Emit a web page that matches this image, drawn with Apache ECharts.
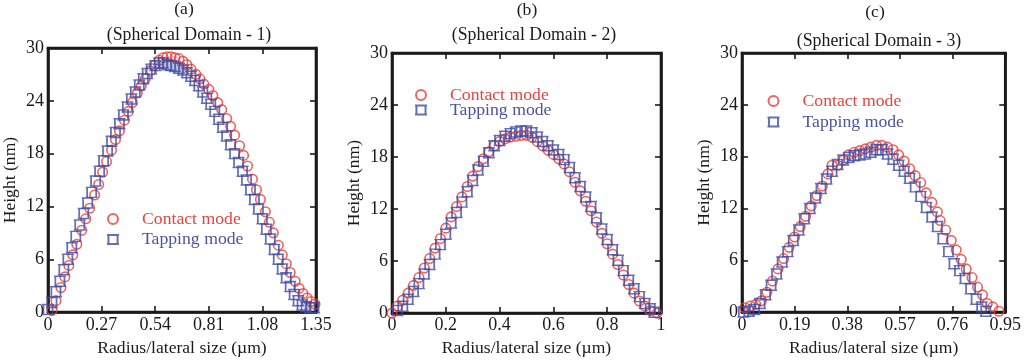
<!DOCTYPE html>
<html>
<head>
<meta charset="utf-8">
<script src="https://cdn.jsdelivr.net/npm/echarts@6/dist/echarts.min.js"></script>
<style>
html,body{margin:0;padding:0;background:#fff;}
#chart{width:1024px;height:362px;}
</style>
</head>
<body>
<div id="chart"></div>
<script>
// ---------- data ----------
const panelLabels = ['(a)', '(b)', '(c)'];
const panelTitles = ['(Spherical Domain - 1)', '(Spherical Domain - 2)', '(Spherical Domain - 3)'];
const seriesNames = ['Contact mode', 'Tapping mode'];
const yTicks = { min: 0, max: 30, interval: 6 };
const xTicksA = { min: 0, max: 1.35, interval: 0.27 };
const xTicksB = { min: 0, max: 1, interval: 0.2 };
const xTicksC = { min: 0, max: 0.95, interval: 0.19 };

const contactA = [[0.02,0.2],[0.04,1.3],[0.065,2.8],[0.085,4.0],[0.105,5.3],[0.125,6.5],[0.145,7.7],[0.17,9.3],[0.19,10.6],[0.21,11.8],[0.235,13.3],[0.255,14.5],[0.275,15.9],[0.295,17.1],[0.32,18.4],[0.34,19.6],[0.36,20.6],[0.385,21.8],[0.405,22.8],[0.425,23.8],[0.45,24.9],[0.47,25.7],[0.49,26.5],[0.515,27.4],[0.535,28.0],[0.56,28.6],[0.58,28.9],[0.60,29.0],[0.62,29.0],[0.64,28.9],[0.66,28.8],[0.68,28.5],[0.70,28.1],[0.72,27.6],[0.745,27.0],[0.765,26.5],[0.785,25.9],[0.81,25.3],[0.83,24.6],[0.855,23.8],[0.875,23.0],[0.90,22.0],[0.92,21.1],[0.94,20.1],[0.965,18.9],[0.985,17.8],[1.005,16.6],[1.03,15.1],[1.05,13.9],[1.07,12.8],[1.095,11.4],[1.115,10.2],[1.135,9.0],[1.16,7.6],[1.18,6.5],[1.20,5.5],[1.22,4.5],[1.245,3.5],[1.265,2.7],[1.285,2.1],[1.305,1.6],[1.325,1.2],[1.345,0.9]];
const tappingA = [[0.00,0.3],[0.02,1.1],[0.04,2.3],[0.06,3.5],[0.08,4.8],[0.10,6.0],[0.12,7.3],[0.14,8.6],[0.16,9.9],[0.18,11.2],[0.20,12.4],[0.22,13.6],[0.24,14.9],[0.26,16.0],[0.28,17.2],[0.30,18.3],[0.32,19.4],[0.34,20.4],[0.36,21.4],[0.38,22.4],[0.40,23.3],[0.42,24.2],[0.44,25.0],[0.46,25.8],[0.48,26.5],[0.50,27.1],[0.52,27.6],[0.54,28.0],[0.56,28.3],[0.58,28.3],[0.60,28.1],[0.62,28.0],[0.64,27.9],[0.66,27.7],[0.68,27.5],[0.70,27.2],[0.72,26.8],[0.74,26.3],[0.76,25.7],[0.78,25.0],[0.80,24.3],[0.82,23.6],[0.84,22.8],[0.86,21.9],[0.88,21.0],[0.90,20.0],[0.92,19.0],[0.94,18.0],[0.96,17.0],[0.98,16.0],[1.00,15.0],[1.02,13.9],[1.04,12.8],[1.06,11.7],[1.08,10.6],[1.10,9.4],[1.12,8.3],[1.14,7.1],[1.16,6.0],[1.18,4.9],[1.20,3.9],[1.22,2.9],[1.24,2.0],[1.26,1.3],[1.28,0.8],[1.30,0.6],[1.32,0.5],[1.34,0.5]];

const contactB = [[0.00,0.0],[0.02,0.8],[0.04,1.5],[0.06,2.3],[0.08,3.2],[0.10,4.1],[0.12,5.2],[0.14,6.3],[0.16,7.5],[0.18,8.6],[0.20,9.8],[0.22,11.1],[0.24,12.3],[0.26,13.4],[0.28,14.6],[0.30,15.8],[0.32,16.9],[0.34,17.8],[0.36,18.6],[0.38,19.3],[0.40,19.8],[0.42,20.1],[0.44,20.3],[0.46,20.4],[0.48,20.5],[0.50,20.5],[0.52,20.3],[0.54,19.8],[0.56,19.3],[0.58,18.8],[0.60,18.3],[0.62,17.8],[0.64,17.2],[0.66,16.3],[0.68,15.1],[0.70,14.1],[0.72,12.9],[0.74,11.8],[0.76,10.5],[0.78,9.2],[0.80,8.0],[0.82,6.8],[0.84,5.6],[0.86,4.4],[0.88,3.3],[0.90,2.3],[0.92,1.4],[0.94,0.8],[0.96,0.3],[0.985,0.0]];
const tappingB = [[0.02,0.3],[0.04,0.8],[0.06,1.6],[0.08,2.5],[0.10,3.4],[0.12,4.5],[0.14,5.6],[0.16,6.8],[0.18,7.9],[0.20,9.1],[0.22,10.4],[0.24,11.6],[0.26,12.8],[0.28,14.0],[0.30,15.3],[0.32,16.5],[0.34,17.5],[0.36,18.5],[0.38,19.3],[0.40,19.9],[0.42,20.4],[0.44,20.7],[0.46,20.9],[0.48,21.0],[0.50,21.0],[0.52,20.8],[0.54,20.3],[0.56,19.8],[0.58,19.3],[0.60,18.8],[0.62,18.3],[0.64,17.7],[0.66,16.8],[0.68,15.6],[0.70,14.6],[0.72,13.4],[0.74,12.3],[0.76,11.0],[0.78,9.7],[0.80,8.5],[0.82,7.3],[0.84,6.1],[0.86,4.9],[0.88,3.8],[0.90,2.8],[0.92,1.9],[0.94,1.1],[0.96,0.5],[0.975,0.1]];

const contactC = [[0.010,0.5],[0.030,0.7],[0.050,0.9],[0.070,1.3],[0.090,2.3],[0.110,3.6],[0.130,5.0],[0.150,6.2],[0.170,7.5],[0.190,8.7],[0.210,9.9],[0.230,11.1],[0.250,12.3],[0.270,13.5],[0.290,14.6],[0.310,16.0],[0.325,17.0],[0.345,17.0],[0.365,17.6],[0.385,18.2],[0.405,18.5],[0.425,18.7],[0.445,18.9],[0.465,19.1],[0.485,19.3],[0.505,19.3],[0.525,19.1],[0.545,18.8],[0.565,18.2],[0.585,17.5],[0.605,16.6],[0.625,15.8],[0.645,15.0],[0.665,13.8],[0.685,12.7],[0.705,11.6],[0.715,10.6],[0.735,9.5],[0.755,8.3],[0.773,7.2],[0.791,6.1],[0.809,5.0],[0.830,4.0],[0.850,2.9],[0.868,2.0],[0.885,1.0],[0.905,0.6],[0.927,0.1]];
const tappingC = [[0.005,0.0],[0.025,0.1],[0.045,0.3],[0.065,1.0],[0.085,2.0],[0.105,3.1],[0.125,4.4],[0.145,5.8],[0.165,7.0],[0.185,8.3],[0.205,9.5],[0.225,10.8],[0.245,12.0],[0.265,13.2],[0.285,14.3],[0.305,15.4],[0.325,16.3],[0.345,17.1],[0.365,17.6],[0.385,17.9],[0.405,18.1],[0.425,18.2],[0.445,18.3],[0.465,18.5],[0.485,18.8],[0.505,18.8],[0.525,18.3],[0.545,17.7],[0.565,17.0],[0.585,16.3],[0.605,15.5],[0.625,14.5],[0.645,13.4],[0.665,12.1],[0.685,11.0],[0.705,9.9],[0.725,8.5],[0.745,7.0],[0.765,5.6],[0.785,4.8],[0.805,3.9],[0.825,2.7],[0.845,1.5],[0.865,0.6],[0.880,0.1]];

// ---------- styling / layout ----------
const RED = '#ec3b36';
const BLUE = '#3f4ba3';
const RED_TXT = '#e8443e';
const BLUE_TXT = '#4d52a3';
const FONT = '"Liberation Serif", "Times New Roman", serif';
const INK = '#1a1a1a';
const SQUARE = 'path://M-1.6 0L11.6 0M-1.6 10L11.6 10M0 0L0 10M10 0L10 10';

const grids = [
  { left: 47, top: 48, width: 269, height: 268 },
  { left: 392, top: 53, width: 269, height: 268 },
  { left: 742, top: 53, width: 268, height: 268 }
];
const xRanges = [xTicksA, xTicksB, xTicksC];
const xNameGaps = [22, 19, 22];
const xLabelMargins = [4, 3, 4];
const contacts = [contactA, contactB, contactC];
const tappings = [tappingA, tappingB, tappingC];
const legendPos = [
  { left: 106, top: 210, gap: 2.5 },
  { left: 414, top: 86, gap: -3 },
  { left: 766.5, top: 92, gap: 3 }
];
const labelPos = [
  { x: 184, y: 9, tx: 189, ty: 35 },
  { x: 527, y: 10, tx: 534, ty: 35 },
  { x: 875, y: 12, tx: 879, ty: 41 }
];

const fmt = v => String(Math.round(v * 100) / 100);

const xAxis = [], yAxis = [], series = [], legend = [], graphic = [];
grids.forEach((g, i) => {
  const r = xRanges[i];
  const tick = { show: true, inside: true, length: 6, lineStyle: { color: INK, width: 1.6 } };
  const line = { show: true, onZero: false, lineStyle: { color: INK, width: 2.6 } };
  xAxis.push({
    type: 'value', gridIndex: i, min: r.min, max: r.max, interval: r.interval, position: 'bottom',
    name: 'Radius/lateral size (µm)', nameLocation: 'middle', nameGap: xNameGaps[i],
    nameTextStyle: { fontFamily: FONT, fontSize: 17.6, color: INK },
    axisLine: line, axisTick: tick, splitLine: { show: false },
    axisLabel: { fontFamily: FONT, fontSize: 18, color: INK, margin: xLabelMargins[i], formatter: fmt }
  });
  xAxis.push({
    type: 'value', gridIndex: i, min: r.min, max: r.max, interval: r.interval, position: 'top',
    axisLine: line, axisTick: tick, splitLine: { show: false }, axisLabel: { show: false }
  });
  yAxis.push({
    type: 'value', gridIndex: i, min: yTicks.min, max: yTicks.max, interval: yTicks.interval, position: 'left',
    name: 'Height (nm)', nameLocation: 'middle', nameGap: 29,
    nameTextStyle: { fontFamily: FONT, fontSize: 17.6, color: INK },
    axisLine: line, axisTick: tick, splitLine: { show: false },
    axisLabel: { fontFamily: FONT, fontSize: 18, color: INK, margin: 4 }
  });
  yAxis.push({
    type: 'value', gridIndex: i, min: yTicks.min, max: yTicks.max, interval: yTicks.interval, position: 'right',
    axisLine: line, axisTick: tick, splitLine: { show: false }, axisLabel: { show: false }
  });
  series.push({
    name: seriesNames[0], type: 'scatter', xAxisIndex: 2 * i, yAxisIndex: 2 * i,
    data: contacts[i], symbol: 'circle', symbolSize: 9.5,
    itemStyle: { color: 'rgba(255,255,255,0)', borderColor: RED, borderWidth: 1.6 },
    emphasis: { disabled: true }
  });
  series.push({
    name: seriesNames[1], type: 'scatter', xAxisIndex: 2 * i, yAxisIndex: 2 * i,
    data: tappings[i], symbol: SQUARE, symbolSize: [12, 10],
    itemStyle: { color: 'rgba(255,255,255,0)', borderColor: BLUE, borderWidth: 1.6 },
    emphasis: { disabled: true }
  });
  const lp = legendPos[i];
  legend.push({
    orient: 'vertical', left: lp.left, top: lp.top, padding: 0, itemGap: lp.gap,
    itemWidth: 12, itemHeight: 10, selectedMode: false,
    textStyle: { fontFamily: FONT, fontSize: 17.7, lineHeight: 14, padding: [0, 0, 0, 18] },
    data: [
      { name: seriesNames[0], textStyle: { color: RED_TXT } },
      { name: seriesNames[1], textStyle: { color: BLUE_TXT } }
    ]
  });
  const p = labelPos[i];
  graphic.push({ type: 'text', x: p.x, y: p.y, style: { text: panelLabels[i], align: 'center', verticalAlign: 'middle', font: '17.6px ' + FONT, fill: INK } });
  graphic.push({ type: 'text', x: p.tx, y: p.ty, style: { text: panelTitles[i], align: 'center', verticalAlign: 'middle', font: '17.8px ' + FONT, fill: INK } });
});

const chart = echarts.init(document.getElementById('chart'), null, { renderer: 'canvas' });
chart.setOption({
  animation: false,
  backgroundColor: '#ffffff',
  grid: grids.map(g => Object.assign({ show: true, borderColor: INK, borderWidth: 2.6, backgroundColor: 'transparent' }, g)),
  xAxis, yAxis, series, legend, graphic
});
</script>
</body>
</html>
